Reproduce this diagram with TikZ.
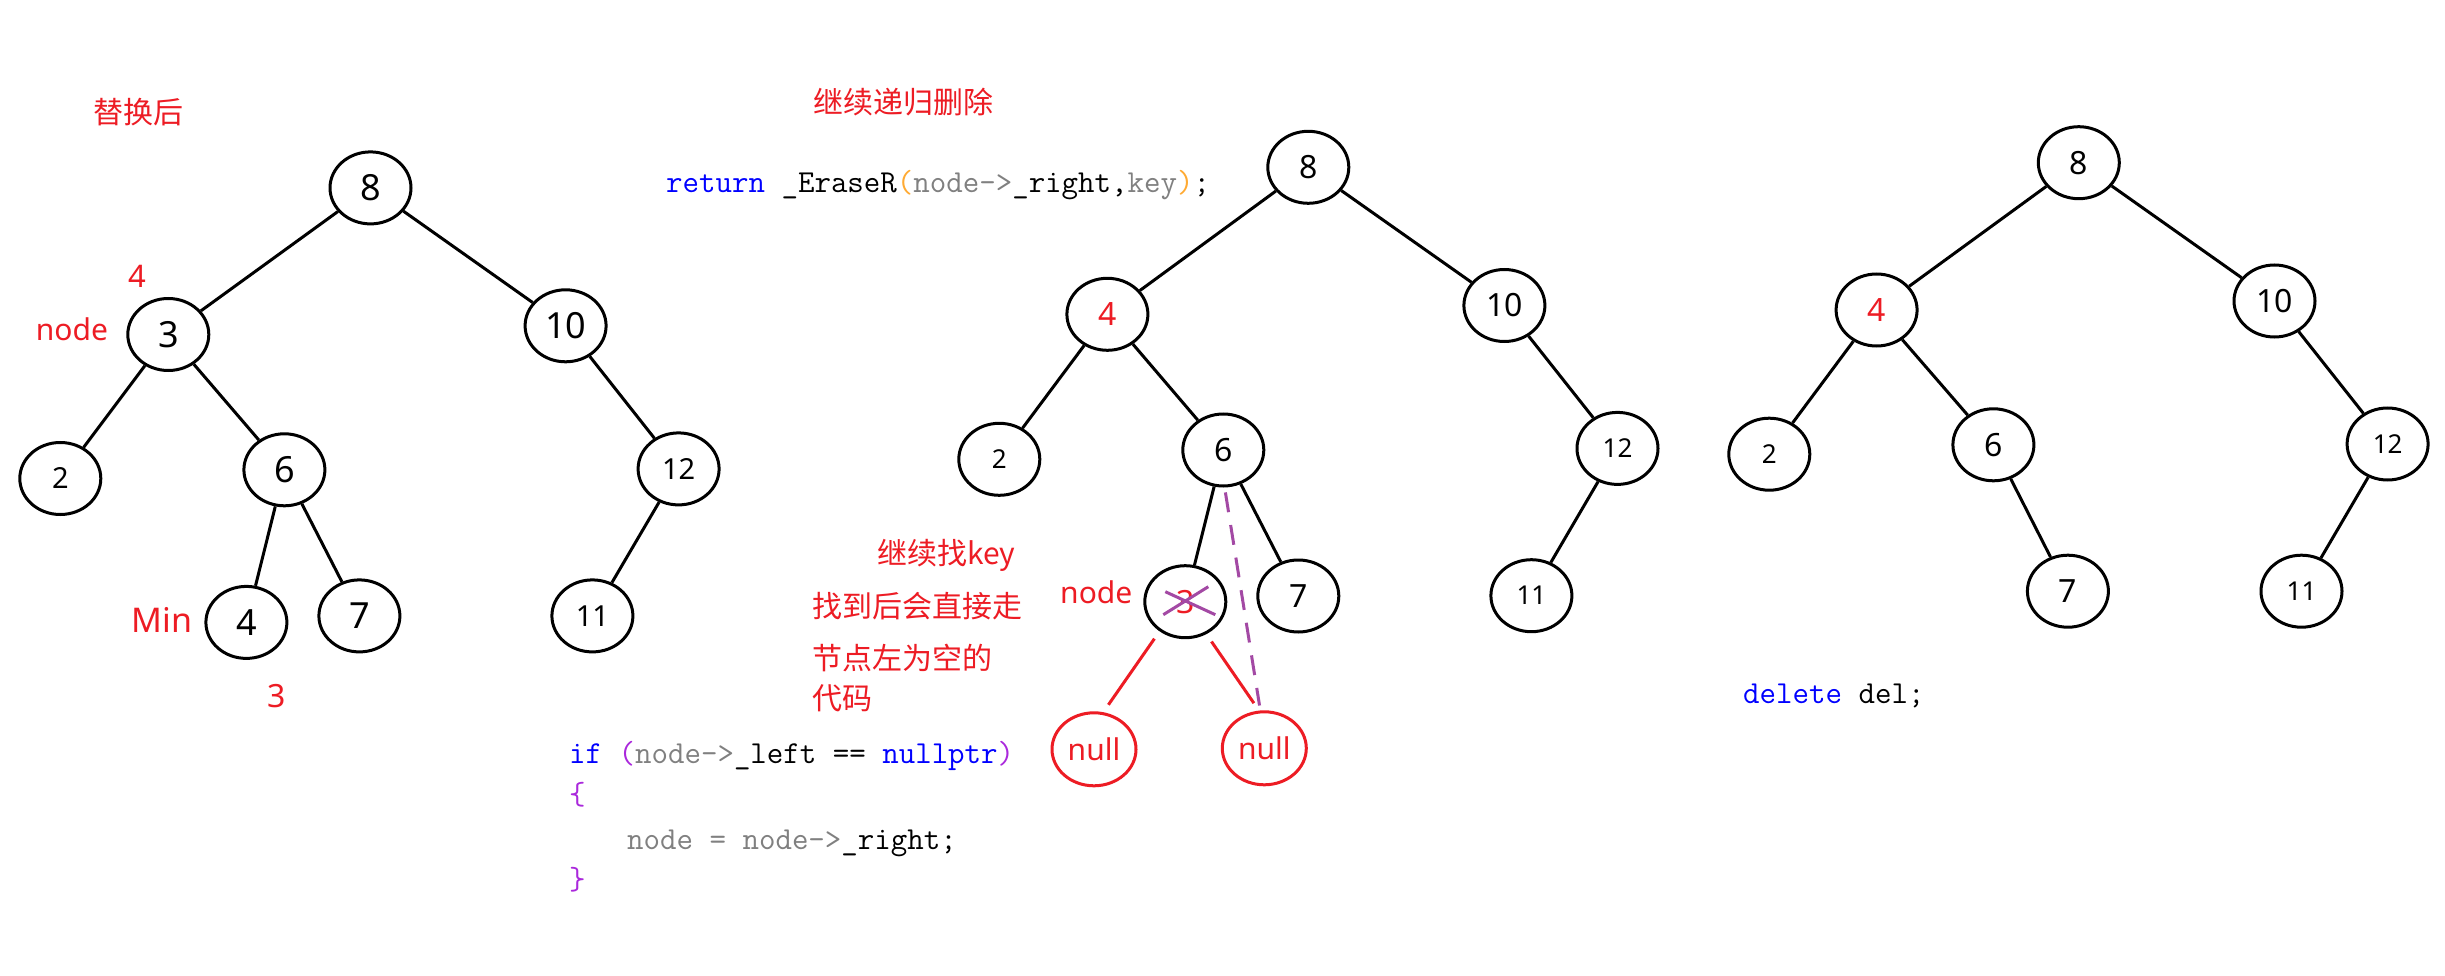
\documentclass[tikz,border=0pt]{standalone}
\usepackage{fontspec}
\setmainfont{Noto Sans}
\newfontfamily\cjk{Noto Sans CJK SC}
\usetikzlibrary{shapes.geometric}
\definecolor{pred}{RGB}{237,28,36}
\definecolor{ppurple}{RGB}{163,73,164}
\definecolor{cblue}{RGB}{0,0,255}
\definecolor{cgray}{RGB}{128,128,128}
\definecolor{corange}{RGB}{255,170,50}
\definecolor{cpurple}{RGB}{170,40,220}
\newcommand{\fsz}[1]{\fontsize{#1}{#1}\selectfont}
\tikzset{
  tn/.style={ellipse, draw, line width=3pt, minimum width=81pt, minimum height=72pt, inner sep=0pt, font={\fsz{32}}},
  tnbig/.style={tn, font={\fsz{36}}},
  tnsmall/.style={tn, font={\fsz{26}}},
  tnsmallA/.style={tn, font={\fsz{29}}},
  nullnode/.style={tn, draw=pred, text=pred, minimum width=84pt, minimum height=73pt, font={\fsz{30}}},
  edge/.style={line width=3pt},
  redline/.style={line width=3pt, draw=pred, shorten <=9pt, shorten >=9pt},
  purpdash/.style={line width=3pt, draw=ppurple, dash pattern=on 20pt off 13pt, shorten <=5pt, shorten >=5pt},
  xline/.style={line width=3pt, draw=ppurple},
  lbl/.style={text=pred, inner sep=0pt, anchor=base west, font={\fsz{30}}},
  cjklbl/.style={text=pred, inner sep=0pt, anchor=base west, font={\cjk\fsz{30}}},
  code/.style={inner sep=0pt, anchor=base west, font={\ttfamily\fsz{32}}}
}
\begin{document}
\begin{tikzpicture}[x=1pt,y=-1pt]
\useasboundingbox (0,0) rectangle (2445,976);
\fill[white] (0,0) rectangle (2445,976);

% ---------- Tree 1 ----------
\node[tnbig] (a8) at (370.5,187.9) {8};
\node[tnbig] (a3) at (168.3,334.5) {3};
\node[tnbig] (a10) at (565.6,325.8) {10};
\node[tnsmallA] (a2) at (60.3,478.5) {2};
\node[tnbig] (a6) at (284.4,469.8) {6};
\node[tnsmallA] (a12) at (678.6,468.9) {12};
\node[tnbig] (a4) at (246.4,622.4) {4};
\node[tnbig] (a7) at (359.4,615.9) {7};
\node[tnsmallA] (a11) at (592.4,615.9) {11};
\draw[edge] (a8) -- (a3);
\draw[edge] (a8) -- (a10);
\draw[edge] (a3) -- (a2);
\draw[edge] (a3) -- (a6);
\draw[edge] (a10) -- (a12);
\draw[edge] (a6) -- (a4);
\draw[edge] (a6) -- (a7);
\draw[edge] (a12) -- (a11);

\node[cjklbl] (t1) at (93.7,124) {替换后};
\node[lbl, font={\fsz{31}}] (l4) at (128.6,287.7) {4};
\node[lbl] (lnode1) at (35.7,341) {node};
\node[lbl, font={\fsz{34}}] (lmin) at (131.7,632.4) {Min};
\node[lbl, font={\fsz{32}}] (l3) at (267,707) {3};

% ---------- Tree 2 ----------
\node[tn] (b8) at (1308.3,167.3) {8};
\node[tn, text=pred] (b4) at (1107.4,314.3) {4};
\node[tn] (b10) at (1504.4,305.5) {10};
\node[tnsmall] (b2) at (999.3,459.3) {2};
\node[tn] (b6) at (1223.3,450) {6};
\node[tnsmall] (b12) at (1617.5,448.4) {12};
\node[tn, text=pred] (b3) at (1185.3,601.7) {3};
\node[tn] (b7) at (1298.3,596) {7};
\node[tnsmall] (b11) at (1531.4,595.7) {11};
\node[nullnode] (bnl) at (1094,749.3) {null};
\node[nullnode] (bnr) at (1264.3,748.3) {null};
\draw[edge] (b8) -- (b4);
\draw[edge] (b8) -- (b10);
\draw[edge] (b4) -- (b2);
\draw[edge] (b4) -- (b6);
\draw[edge] (b10) -- (b12);
\draw[edge] (b6) -- (b3);
\draw[edge] (b6) -- (b7);
\draw[edge] (b12) -- (b11);
\draw[redline] (b3.-131) -- (bnl.76);
\draw[redline] (b3.-57) -- (bnr.98);
\draw[purpdash] (b6.-88) -- (bnr.96);
\draw[xline] ([shift={(-20,-10)}]b3.center) -- ([shift={(30,13)}]b3.center);
\draw[xline] ([shift={(-22,13)}]b3.center) -- ([shift={(23,-15)}]b3.center);

\node[lbl] (lnode2) at (1060,603) {node};
\node[cjklbl] (t2) at (813,114) {继续递归删除};
\node[cjklbl] (t3) at (877,564) {继续找key};
\node[cjklbl] (t4) at (812,617) {找到后会直接走};
\node[cjklbl] (t5) at (812,669) {节点左为空的};
\node[cjklbl] (t6) at (812,709) {代码};

\node[code] (c1) at (666,193) {\textcolor{cblue}{return} \_EraseR\textcolor{corange}{(}\textcolor{cgray}{node->}\_right,\textcolor{cgray}{key}\textcolor{corange}{)};};
\node[code] (c2) at (569,763) {\textcolor{cblue}{if} \textcolor{cpurple}{(}\textcolor{cgray}{node->}\_left == \textcolor{cblue}{nullptr}\textcolor{cpurple}{)}};
\node[code] (c3) at (569,804) {\textcolor{cpurple}{\{}};
\node[code] (c4) at (627,849) {\textcolor{cgray}{node = node->}\_right;};
\node[code] (c5) at (569,889) {\textcolor{cpurple}{\}}};

% ---------- Tree 3 ----------
\node[tn] (c8n) at (2078.8,162.7) {8};
\node[tn, text=pred] (c4n) at (1876.6,310) {4};
\node[tn] (c10n) at (2274.5,301) {10};
\node[tnsmall] (c2n) at (1769.3,454.2) {2};
\node[tn] (c6n) at (1993.4,444.8) {6};
\node[tnsmall] (c12n) at (2387.6,444) {12};
\node[tn] (c7n) at (2067.9,591.2) {7};
\node[tnsmall] (c11n) at (2301.5,591.2) {11};
\draw[edge] (c8n) -- (c4n);
\draw[edge] (c8n) -- (c10n);
\draw[edge] (c4n) -- (c2n);
\draw[edge] (c4n) -- (c6n);
\draw[edge] (c10n) -- (c12n);
\draw[edge] (c6n) -- (c7n);
\draw[edge] (c12n) -- (c11n);

\node[code] (c6) at (1743,703) {\textcolor{cblue}{delete} del;};
\end{tikzpicture}
\end{document}
